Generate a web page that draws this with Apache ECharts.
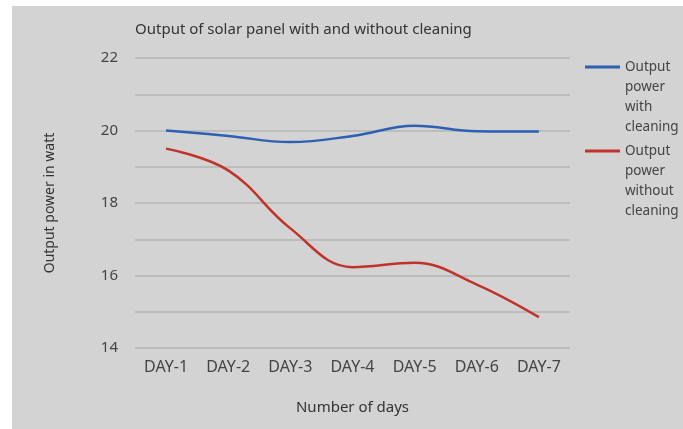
<!DOCTYPE html>
<html>
<head>
<meta charset="utf-8">
<script src="https://cdn.jsdelivr.net/npm/echarts@6/dist/echarts.min.js"></script>
<style>
html,body{margin:0;padding:0;background:#ffffff;}
#chart{position:absolute;left:12px;top:6px;width:671px;height:423px;background:#d3d3d3;}
</style>
</head>
<body>
<div id="chart"></div>
<script>
const categories = ['DAY-1','DAY-2','DAY-3','DAY-4','DAY-5','DAY-6','DAY-7'];
const withCleaning = [20.0, 19.85, 19.68, 19.85, 20.13, 19.98, 19.97];
const withoutCleaning = [19.5, 18.9, 17.3, 16.23, 16.35, 15.75, 14.85];
const seriesNames = ['Output\npower\nwith\ncleaning', 'Output\npower\nwithout\ncleaning'];
const yTicks = [14, 16, 18, 20, 22];

const FONT = 'Noto Sans';
const chart = echarts.init(document.getElementById('chart'));
chart.setOption({
  backgroundColor: '#d3d3d3',
  animation: false,
  title: {
    text: 'Output of solar panel with and without cleaning',
    left: 118, top: 11,
    textStyle: {fontFamily: FONT, fontSize: 15, fontWeight: 'normal', color: '#333'}
  },
  legend: {
    orient: 'vertical',
    left: 568, top: -14,
    itemWidth: 35, itemHeight: 3,
    itemGap: -56,
    icon: 'rect',
    data: seriesNames,
    formatter: name => '\n\n\n' + name,
    textStyle: {fontFamily: FONT, fontSize: 13.5, color: '#444', lineHeight: 20}
  },
  grid: {left: 123, right: 113, top: 52, bottom: 81},
  xAxis: {
    type: 'category',
    data: categories,
    boundaryGap: true,
    name: 'Number of days',
    nameLocation: 'middle',
    nameGap: 52,
    nameTextStyle: {fontFamily: FONT, fontSize: 15, color: '#333'},
    axisLine: {show: false},
    axisTick: {show: false},
    axisLabel: {fontFamily: FONT, fontSize: 16, color: '#444', margin: 11}
  },
  yAxis: {
    type: 'value',
    min: 14, max: 22, interval: 1,
    name: 'Output power in watt',
    nameLocation: 'middle',
    nameGap: 78,
    nameTextStyle: {fontFamily: FONT, fontSize: 14, color: '#333'},
    axisLine: {show: false},
    axisTick: {show: false},
    axisLabel: {
      fontFamily: FONT, fontSize: 15, color: '#444', margin: 17,
      formatter: v => yTicks.indexOf(v) >= 0 ? String(v) : ''
    },
    splitLine: {lineStyle: {color: '#b4b4b4', width: 1.5}}
  },
  series: [
    {name: seriesNames[0], type: 'line', data: withCleaning, smooth: 0.4, showSymbol: false,
     lineStyle: {color: '#2d5fb2', width: 2.5}, itemStyle: {color: '#2d5fb2'}},
    {name: seriesNames[1], type: 'line', data: withoutCleaning, smooth: 0.4, showSymbol: false,
     lineStyle: {color: '#c0332b', width: 2.5}, itemStyle: {color: '#c0332b'}}
  ]
});
</script>
</body>
</html>
